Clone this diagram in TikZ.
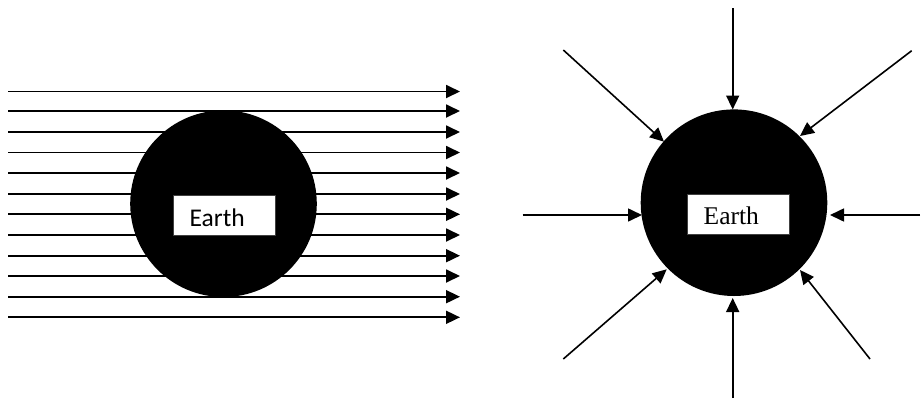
\documentclass[tikz,border=0pt]{standalone}
\usepackage{fontspec}
\setmainfont{Liberation Serif}
\newfontfamily\calfont{Carlito}
\usetikzlibrary{arrows.meta}
\begin{document}
\begin{tikzpicture}[x=1pt,y=-1pt,
  ray/.style={line width=1.8pt,-{Triangle[length=14pt,width=13pt]}},
  earth/.style={circle,fill=black,draw=none,minimum size=186.6pt,inner sep=0pt},
  labelbox/.style={rectangle,fill=white,draw=black!75,line width=0.6pt,minimum width=102pt,minimum height=40pt,inner sep=0pt},
  lbl/.style={inner sep=0pt,anchor=base west,font=\fontsize{25.5}{30}\selectfont}]
\useasboundingbox (0,0) rectangle (921,400);
% left diagram
\foreach \i/\y in {1/91.5,2/111,3/132,4/152.5,5/173,6/194,7/214.3,8/235,9/255.7,10/276,11/296.7,12/317.3}{
  \coordinate (s\i) at (8,\y);
  \coordinate (e\i) at (460,\y);
  \draw[ray] (s\i) -- (e\i);
}
\node[earth] (earthL) at (223.5,203.7) {};
\node[labelbox] (boxL) at (224.3,215) {};
\node[lbl,font=\calfont\fontsize{25.5}{30}\selectfont] (txtL) at (189.5,226.5) {Earth};
% right diagram
\node[earth] (earthR) at (734,202.7) {};
\node[labelbox] (boxR) at (738,214) {};
\node[lbl] (txtR) at (703.5,224.5) {Earth};
\coordinate (nS) at (732.7,8);   \coordinate (nT) at (732.7,109.5);
\coordinate (sS) at (732.7,398); \coordinate (sT) at (732.7,298);
\coordinate (wS) at (522.7,215); \coordinate (wT) at (642,215);
\coordinate (eS) at (920,215);   \coordinate (eT) at (830,215);
\coordinate (nwS) at (563.3,50);  \coordinate (nwT) at (664,141.7);
\coordinate (neS) at (911.7,50.7); \coordinate (neT) at (800,136);
\coordinate (swS) at (563.3,359); \coordinate (swT) at (666.7,269.3);
\coordinate (seS) at (870,359);   \coordinate (seT) at (800,270);
\foreach \d in {n,s,w,e,nw,ne,sw,se}{
  \draw[ray,line width=1.6pt] (\d S) -- (\d T);
}
\end{tikzpicture}
\end{document}
